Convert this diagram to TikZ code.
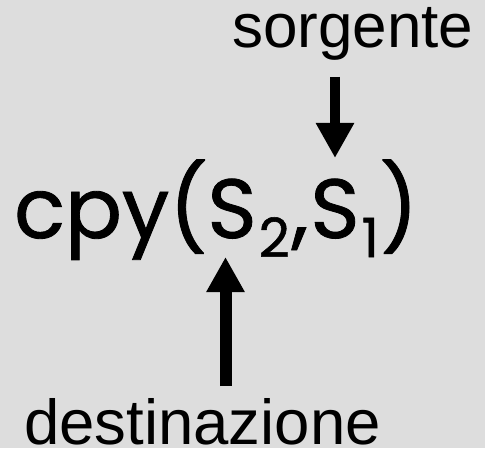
\documentclass[tikz,border=0pt]{standalone}
\usepackage{fontspec}
\setmainfont{Liberation Sans}
\newfontfamily\comicfont[FakeBold=1]{Poppins}
\usetikzlibrary{arrows.meta}
\definecolor{bg}{RGB}{221,221,221}
\newcommand{\subdigit}[1]{\raisebox{-19pt}{\fontsize{54}{54}\selectfont #1}}
\tikzset{
  label/.style={inner sep=0pt, anchor=base west},
  bigarrow/.style={-{Triangle[width=36pt,length=35pt]}, line cap=butt, black}
}
\begin{document}
\begin{tikzpicture}[x=1pt,y=1pt]
\fill[bg] (0,0) rectangle (485,448);
\useasboundingbox (0,0) rectangle (485,448);
\node[label] (src) at (232,400) {\fontsize{62}{62}\selectfont sorgente};
\node[label] (dst) at (24,4) {\fontsize{63.5}{63.5}\selectfont destinazione};
\node[label] (cpy) at (14,210) {\comicfont\fontsize{84}{84}\selectfont cpy(S\kern2pt\subdigit{2}\kern2pt,\kern2pt S\kern2pt\subdigit{1}\kern1pt)};
\coordinate (srcstart) at (335,371);
\coordinate (srctip) at (335,290);
\coordinate (dststart) at (225.5,62);
\coordinate (dsttip) at (225.5,191);
\draw[bigarrow, line width=10pt] (srcstart) -- (srctip);
\draw[bigarrow, line width=12pt] (dststart) -- (dsttip);
\end{tikzpicture}
\end{document}
